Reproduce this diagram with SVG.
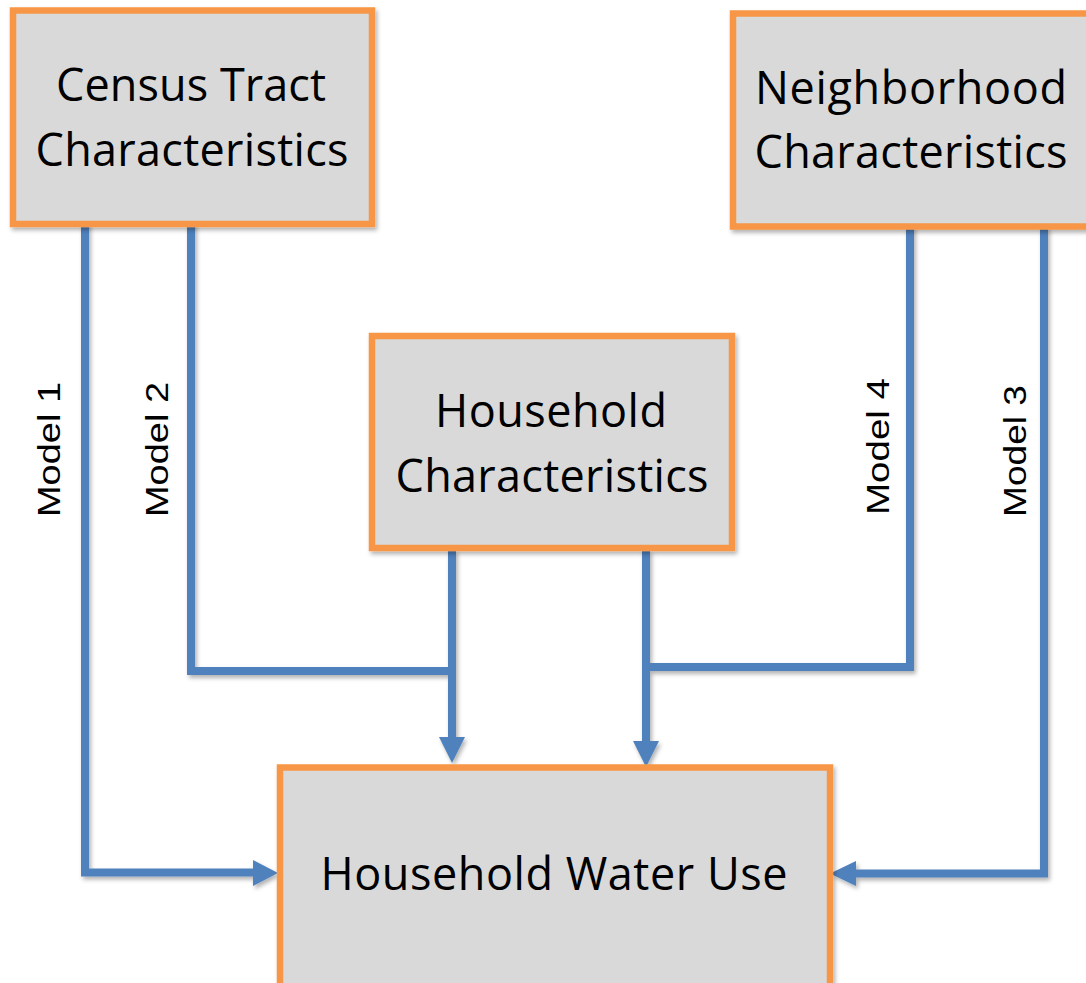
<svg xmlns="http://www.w3.org/2000/svg" width="1086" height="983" viewBox="0 0 1086 983">
  <defs>
    <filter id="sh" filterUnits="userSpaceOnUse" x="0" y="0" width="1086" height="983">
      <feDropShadow dx="2" dy="3" stdDeviation="2" flood-color="#000" flood-opacity="0.3"/>
    </filter>
  </defs>
  <style>
    .box { fill: #D9D9D9; stroke: #F79646; stroke-width: 6.5; filter: url(#sh); }
    .lbl { font-family: "Open Sans", "Liberation Sans", sans-serif; font-size: 45px; fill: #000; text-anchor: middle; }
    .mdl { font-family: "Liberation Sans", Arial, sans-serif; font-size: 32px; fill: #000; text-anchor: middle; }
    .con { fill: none; stroke: #4F81BD; stroke-width: 8; stroke-linejoin: miter; }
    .head { fill: #4F81BD; }
  </style>
  <rect width="1086" height="983" fill="#FFFFFF"/>

  <g id="connectors" filter="url(#sh)">
    <path class="con" d="M85,222 L85,872.5 L255,872.5"/>
    <path class="con" d="M191,222 L191,671 L452,671"/>
    <path class="con" d="M452,550 L452,738"/>
    <path class="con" d="M646,550 L646,742"/>
    <path class="con" d="M910,226 L910,667 L646,667"/>
    <path class="con" d="M1044,226 L1044,873.5 L855,873.5"/>
    <path class="head" d="M439,737 L452,763 L465,737 Z"/>
    <path class="head" d="M633,741 L646,767 L659,741 Z"/>
    <path class="head" d="M253,860 L253,886 L278,873 Z"/>
    <path class="head" d="M856,861 L856,886 L830,873.5 Z"/>
  </g>

  <g id="labels">
    <text class="mdl" transform="translate(60,449.5) rotate(-90)" textLength="135" lengthAdjust="spacingAndGlyphs">Model 1</text>
    <text class="mdl" transform="translate(168,449.5) rotate(-90)" textLength="135" lengthAdjust="spacingAndGlyphs">Model 2</text>
    <text class="mdl" transform="translate(889,446.5) rotate(-90)" textLength="137" lengthAdjust="spacingAndGlyphs">Model 4</text>
    <text class="mdl" transform="translate(1026,451) rotate(-90)" textLength="132" lengthAdjust="spacingAndGlyphs">Model 3</text>
  </g>

  <g id="census">
    <rect class="box" x="13" y="10.5" width="359" height="213.5"/>
    <text class="lbl" x="191" y="101" textLength="270">Census Tract</text>
    <text class="lbl" x="192" y="166" textLength="313">Characteristics</text>
  </g>

  <g id="neighborhood">
    <rect class="box" x="733" y="13.5" width="357" height="213"/>
    <text class="lbl" x="911" y="104" textLength="312">Neighborhood</text>
    <text class="lbl" x="911" y="168" textLength="313">Characteristics</text>
  </g>

  <g id="household">
    <rect class="box" x="372" y="336" width="360" height="212"/>
    <text class="lbl" x="551" y="427" textLength="232">Household</text>
    <text class="lbl" x="552" y="492" textLength="313">Characteristics</text>
  </g>

  <g id="wateruse">
    <rect class="box" x="280" y="767.5" width="550" height="240"/>
    <text class="lbl" x="554" y="890" textLength="467">Household Water Use</text>
  </g>
</svg>
